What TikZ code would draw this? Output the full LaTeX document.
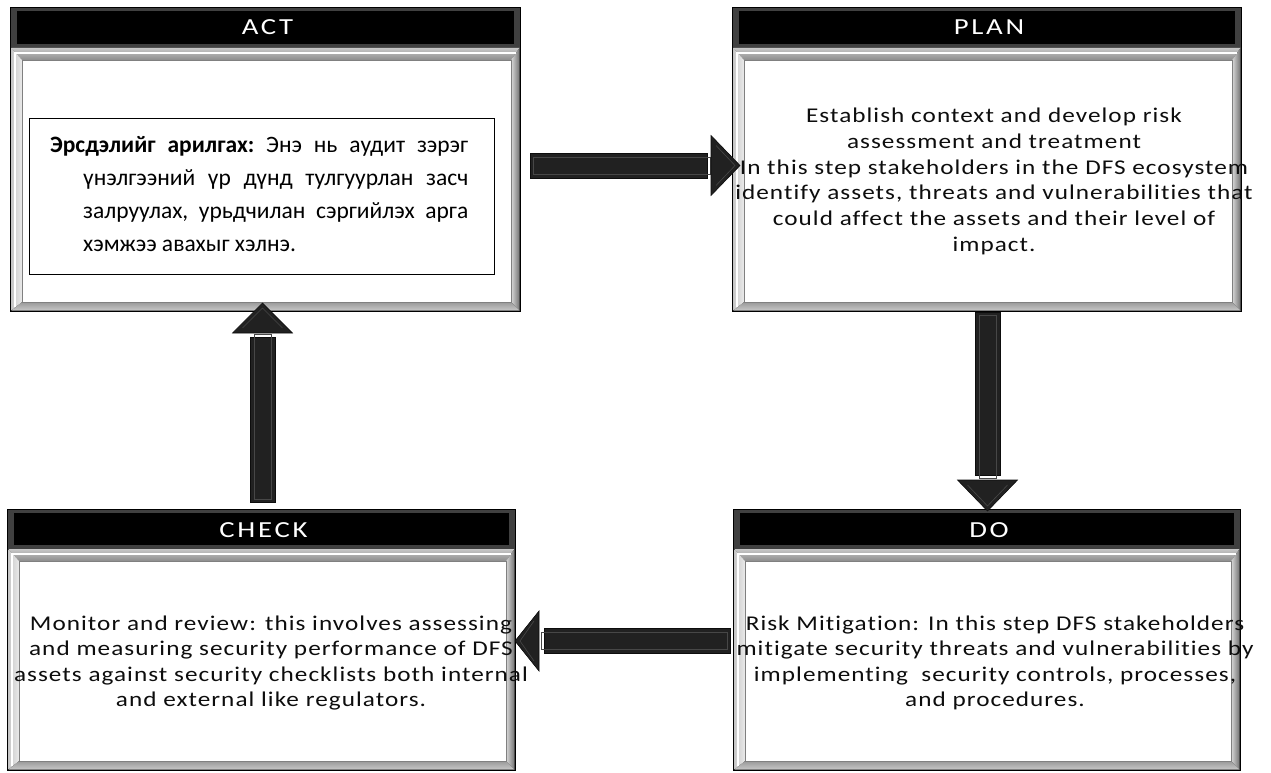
\documentclass[tikz,border=0pt]{standalone}
\usepackage{fontspec}
\setmainfont{Carlito}
\newfontfamily\bodyfont{Carlito}[FakeStretch=1.2,LetterSpace=5,Ligatures=NoCommon]
\newfontfamily\headfont{Carlito}[FakeStretch=1.25,LetterSpace=12,Ligatures=NoCommon]
\usetikzlibrary{calc,fit}

\tikzset{
  headbevel/.style={fill=black!75},
  bevtop/.style={top color=black!22, bottom color=black!45},
  bevleft/.style={left color=black!22, right color=black!8},
  bevright/.style={left color=black!15, right color=black!55},
  bevbottom/.style={top color=black!40, bottom color=black!22},
  innerpane/.style={fill=white, draw=black!50, line width=0.8pt},
  headtext/.style={text=white, font=\headfont\fontsize{23}{26}\selectfont, inner sep=0pt, anchor=base},
  bodytext/.style={text=black!95, font=\bodyfont\fontsize{21}{25.6}\selectfont, inner sep=0pt, anchor=base},
  mntext/.style={text=black, font=\fontsize{23.5}{32.7}\selectfont\frenchspacing, inner sep=0pt, anchor=base west},
  mnframe/.style={draw=black, fill=white, line width=1.2pt, inner sep=0pt, anchor=north west},
  arrowbody/.style={fill=black!87, draw=black!95, line width=0.6pt},
  arrowshine/.style={draw=black!72, line width=0.6pt},
}

% One stage of the cycle: #1 name, #2 x1, #3 y1, #4 x2, #5 y2, #6 bottom of title bar, #7 title
\newcommand\pdcabox[7]{%
  \coordinate (#1-nw) at (#2,#3);
  \coordinate (#1-se) at (#4,#5);
  \node[fit=(#1-nw)(#1-se), inner sep=0pt, outer sep=0pt] (#1) {};
  \fill[black] (#2,#3) rectangle (#4,#5);
  \fill[headbevel] (#2+1,#3+1) rectangle (#4-1,#6);
  \fill[black] (#2+7,#3+4) rectangle (#4-7,#6-4);
  \shade[bevtop] (#2+1.5,#6) -- (#4-1.5,#6) -- (#4-10,#6+12) -- (#2+12,#6+12) -- cycle;
  \shade[bevleft] (#2+1.5,#6) -- (#2+12,#6+12) -- (#2+12,#5-10) -- (#2+1.5,#5-1.5) -- cycle;
  \shade[bevright] (#4-1.5,#6) -- (#4-1.5,#5-1.5) -- (#4-10,#5-10) -- (#4-10,#6+12) -- cycle;
  \shade[bevbottom] (#2+1.5,#5-1.5) -- (#4-1.5,#5-1.5) -- (#4-10,#5-10) -- (#2+12,#5-10) -- cycle;
  \draw[white, line width=1.5pt] (#2+5,#5-5) -- (#2+5,#6+5) -- (#4-5,#6+5);
  \draw[innerpane] (#2+12,#6+12) rectangle (#4-10,#5-10);
  \node[headtext] (#1-title) at ({(#2+#4)/2+2},#3+28) {#7};
}

% Block arrow: #1 tail, #2 tip, #3 unit vector along, #4 unit vector across,
% #5 distance of the shaft end from the tip, #6 length of the head
\newcommand\blockarrow[6]{%
  \pgfmathsetmacro\shaftin{#5-3}
  \pgfmathsetmacro\headin{#6-5}
  \filldraw[arrowbody] ($(#1)+12.5*(#4)$) -- ($(#2)-#5*(#3)+12.5*(#4)$)
    -- ($(#2)-#5*(#3)-12.5*(#4)$) -- ($(#1)-12.5*(#4)$) -- cycle;
  \draw[arrowshine] ($(#1)+3*(#3)+8.5*(#4)$) -- ($(#2)-\shaftin*(#3)+8.5*(#4)$)
    -- ($(#2)-\shaftin*(#3)-8.5*(#4)$) -- ($(#1)+3*(#3)-8.5*(#4)$) -- cycle;
  \filldraw[arrowbody] ($(#2)-#6*(#3)+30*(#4)$) -- (#2) -- ($(#2)-#6*(#3)-30*(#4)$) -- cycle;
  \draw[arrowshine] ($(#2)-\headin*(#3)+20*(#4)$) -- ($(#2)-5*(#3)$) -- ($(#2)-\headin*(#3)-20*(#4)$);
}

\begin{document}
\begin{tikzpicture}[x=1pt,y=-1pt]
\useasboundingbox (0,0) rectangle (1271,773);
\fill[white] (0,0) rectangle (1271,773);

% the four stages
\pdcabox{act}{10}{7}{521}{312}{48}{ACT}
\pdcabox{plan}{732}{7}{1242}{312}{48}{PLAN}
\pdcabox{check}{7}{509}{516}{771}{549}{CHECK}
\pdcabox{do}{733}{509}{1241}{771}{549}{DO}

% arrows of the cycle
\coordinate (a1-tail) at ($(act.east)+(9,6)$);
\coordinate (a1-tip) at ($(plan.west)+(8,6)$);
\blockarrow{a1-tail}{a1-tip}{1,0}{0,1}{33}{29}

\coordinate (a2-tail) at ($(plan.south)+(0.5,0)$);
\coordinate (a2-tip) at ($(do.north)+(0.5,2)$);
\blockarrow{a2-tail}{a2-tip}{0,1}{1,0}{36}{31}

\coordinate (a3-tail) at ($(do.west)+(-3,1)$);
\coordinate (a3-tip) at ($(check.east)+(-1,1)$);
\blockarrow{a3-tail}{a3-tip}{-1,0}{0,1}{29}{24}

\coordinate (a4-tail) at ($(check.north)+(1,-7)$);
\coordinate (a4-tip) at ($(act.south)+(-3,-9)$);
\blockarrow{a4-tail}{a4-tip}{0,-1}{1,0}{34}{30}

% ACT text in its own frame
\node[mnframe, minimum width=465pt, minimum height=156pt] (act-frame) at (29,118) {};
\node[mntext] (act-text) at (50,153) {\parbox[t]{420pt}{%
\makebox[418pt][s]{\textbf{Эрсдэлийг арилгах:} Энэ нь аудит зэрэг}\\
\hspace*{33pt}\makebox[385pt][s]{үнэлгээний үр дүнд тулгуурлан засч}\\
\hspace*{33pt}\makebox[385pt][s]{залруулах, урьдчилан сэргийлэх арга}\\
\hspace*{33pt}хэмжээ авахыг хэлнэ.}};

% PLAN text
\node[bodytext] (plan-text) at (994,123) {\parbox[t]{640pt}{\centering
Establish context and develop risk\\
assessment and treatment\\
In this step stakeholders in the DFS ecosystem\\
identify assets, threats and vulnerabilities that\\
could affect the assets and their level of\\
impact.}};

% DO text
\node[bodytext] (do-text) at (995,630) {\parbox[t]{640pt}{\centering
Risk Mitigation: In this step DFS stakeholders\\
mitigate security threats and vulnerabilities by\\
implementing \ security controls, processes,\\
and procedures.}};

% CHECK text
\node[bodytext] (check-text) at (271,630) {\parbox[t]{640pt}{\centering
Monitor and review: this involves assessing\\
and measuring security performance of DFS\\
assets against security checklists both internal\\
and external like regulators.}};
\end{tikzpicture}
\end{document}
